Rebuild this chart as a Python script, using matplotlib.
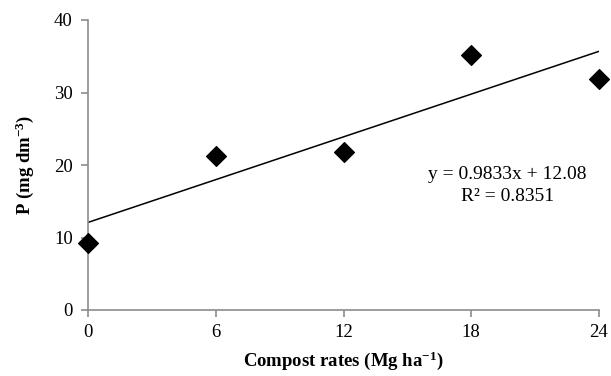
import matplotlib
matplotlib.use("Agg")
import matplotlib.pyplot as plt
import numpy as np

# Compost rates and soil P
rates = [0, 6, 12, 18, 24]
phosphorus = [9.2, 21.3, 21.8, 35.2, 31.8]
x_ticks = [0, 6, 12, 18, 24]
y_ticks = [0, 10, 20, 30, 40]

# Linear fit as reported
slope = 0.9833
intercept = 12.08
r_squared = 0.8351

plt.rcParams["font.family"] = ["Liberation Serif", "DejaVu Serif"]
plt.rcParams["mathtext.fontset"] = "custom"
plt.rcParams["mathtext.rm"] = "Liberation Serif"
plt.rcParams["mathtext.bf"] = "Liberation Serif:bold"
plt.rcParams["mathtext.it"] = "Liberation Serif:italic"

fig = plt.figure(figsize=(6.11, 3.76), dpi=100)
ax = fig.add_axes([88 / 611, 1 - 310 / 376, (599 - 88) / 611, (310 - 20) / 376])

ax.scatter(rates, phosphorus, marker="D", s=100, color="black", zorder=3, clip_on=False)

xs = np.array([min(x_ticks), max(x_ticks)])
ax.plot(xs, slope * xs + intercept, color="black", lw=1.1, zorder=2)

ax.set_xlim(0, 24)
ax.set_ylim(0, 40)
ax.set_xticks(x_ticks)
ax.set_yticks(y_ticks)

grey = "#8c8c8c"
for side in ("top", "right"):
    ax.spines[side].set_visible(False)
for side in ("left", "bottom"):
    ax.spines[side].set_color(grey)
    ax.spines[side].set_linewidth(1.2)
ax.tick_params(axis="both", direction="out", length=5, width=1.2, color=grey,
               labelsize=13.5, labelcolor="black")
ax.tick_params(axis="x", pad=5)
ax.tick_params(axis="y", pad=6)

ax.text(19.7, 18.7, f"y = {slope}x + {intercept}", ha="center", va="center", fontsize=14)
ax.text(19.7, 15.7, f"R² = {r_squared}", ha="center", va="center", fontsize=14)

ax.set_xlabel(r"Compost rates (Mg ha$^{\mathbf{-1}}$)", fontsize=13.5, fontweight="bold")
ax.set_ylabel(r"P (mg dm$^{\mathbf{-3}}$)", fontsize=13.5, fontweight="bold")
ax.xaxis.set_label_coords(0.5, (310 - 361) / 290)
ax.xaxis.label.set_va("center")
ax.yaxis.set_label_coords((25 - 88) / 511, 0.5)
ax.yaxis.label.set_va("center")

fig.savefig("out.png", dpi=100)
